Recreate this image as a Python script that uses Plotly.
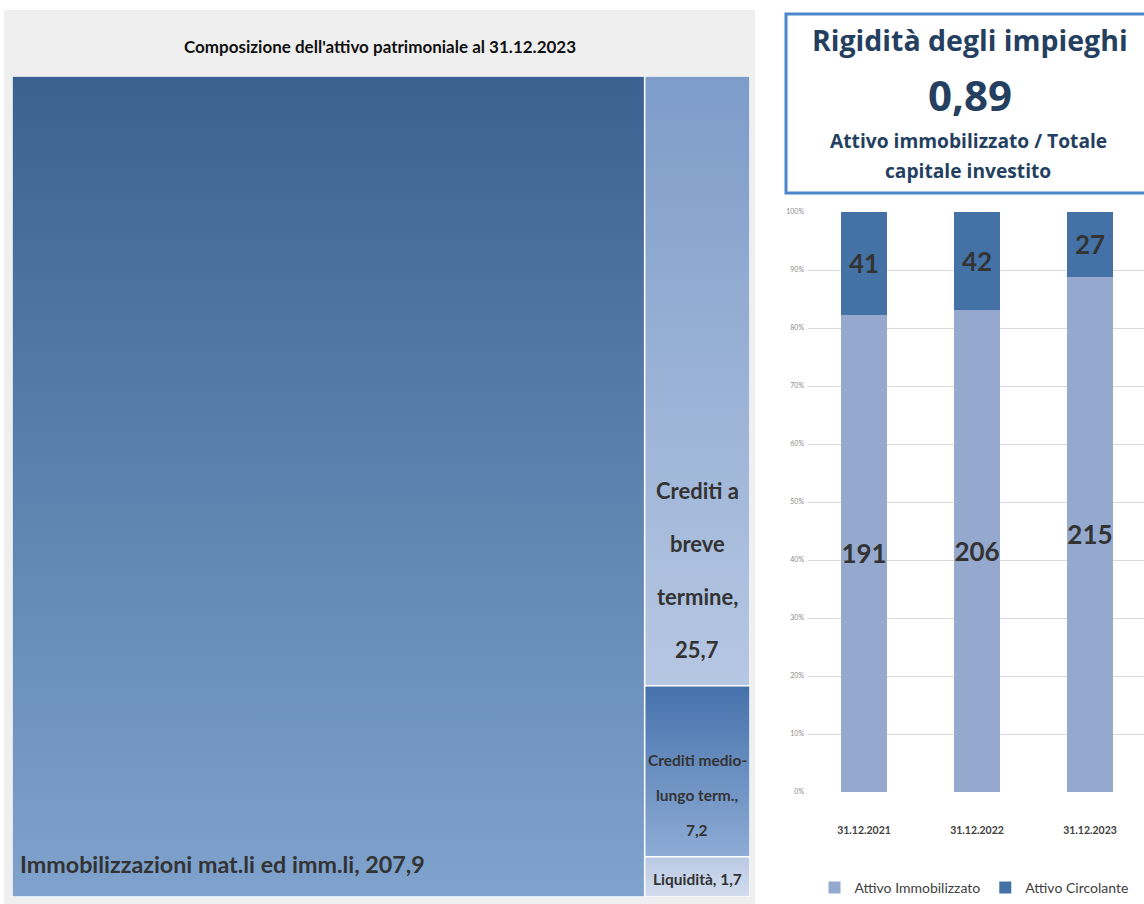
import plotly.graph_objects as go

# ---- Treemap data: composition of assets at 31.12.2023 (million) ----
asset_labels = [
    "Immobilizzazioni mat.li ed imm.li",
    "Crediti a breve termine",
    "Crediti medio-lungo term.",
    "Liquidità",
]
asset_values = [207.9, 25.7, 7.2, 1.7]
asset_value_text = ["207,9", "25,7", "7,2", "1,7"]
# how each tile label is broken into lines inside its tile
asset_label_lines = [
    ["Immobilizzazioni mat.li ed imm.li, 207,9"],
    ["Crediti a", "breve", "termine,", "25,7"],
    ["Crediti medio-", "lungo term.,", "7,2"],
    ["Liquidità, 1,7"],
]

# ---- Stacked bar data ----
years = ["31.12.2021", "31.12.2022", "31.12.2023"]
attivo_immobilizzato = [191, 206, 215]
attivo_circolante = [41, 42, 27]

# ---- KPI box ----
kpi_title = "Rigidità degli impieghi"
kpi_value = "0,89"
kpi_caption = ["Attivo immobilizzato / Totale", "capitale investito"]

W, H = 1144, 904
LABEL_FONT = "Lato, Liberation Sans, sans-serif"
KPI_FONT = "Open Sans, Noto Sans, sans-serif"
DARK_TEXT = "#333333"
NAVY = "#243f60"

# gradient (bottom colour, top colour) for each tile
tile_gradients = [
    ("#7fa3cd", "#3c6190"),
    ("#b6c7e3", "#7d9cc8"),
    ("#8eacd6", "#4571ab"),
    ("#d2dcee", "#bac9e3"),
]


def px_x(p):
    return p / W


def px_y(p):
    return 1 - p / H


fig = go.Figure()

# ---- tile layout: first tile takes the left column, the others stack on the right ----
total = sum(asset_values)
split_x = asset_values[0] / total
rest_total = sum(asset_values[1:])
rects = [(0.0, split_x, 0.0, 1.0)]
top = 1.0
for v in asset_values[1:]:
    h = v / rest_total
    rects.append((split_x, 1.0, top - h, top))
    top -= h

for (x0, x1, y0, y1), (c_bot, c_top), name, val in zip(rects, tile_gradients, asset_labels, asset_values):
    fig.add_trace(go.Scatter(
        x=[x0, x1, x1, x0, x0], y=[y0, y0, y1, y1, y0],
        xaxis="x", yaxis="y", mode="lines", fill="toself",
        line=dict(color="white", width=1.5),
        fillgradient=dict(type="vertical", colorscale=[[0, c_bot], [1, c_top]]),
        name=name, hovertemplate=f"{name}: {val}<extra></extra>", showlegend=False,
    ))

# tile labels, anchored near the bottom of each tile
(x0, x1, y0, y1) = rects[0]
fig.add_annotation(x=x0, y=y0, xref="x", yref="y", xanchor="left", yanchor="middle",
                   xshift=6, yshift=33, showarrow=False,
                   text=asset_label_lines[0][0],
                   font=dict(family=LABEL_FONT, size=23.3, color=DARK_TEXT, weight="bold"))

tile_label_style = [
    (22, 36, 53),   # font size, offset of last line from bottom, line spacing
    (15.5, 27, 35),
    (15.5, 18, 0),
]
for (x0, x1, y0, y1), lines, (fs, off, gap) in zip(rects[1:], asset_label_lines[1:], tile_label_style):
    n = len(lines)
    for k, line in enumerate(lines):
        fig.add_annotation(x=(x0 + x1) / 2, y=y0, xref="x", yref="y",
                           xanchor="center", yanchor="middle", yshift=off + (n - 1 - k) * gap,
                           showarrow=False, text=line,
                           font=dict(family=LABEL_FONT, size=fs, color=DARK_TEXT, weight="bold"))

# ---- 100% stacked bars ----
bar_text_font = dict(family=LABEL_FONT, size=26, color=DARK_TEXT, weight="bold")
fig.add_trace(go.Bar(
    x=years, y=attivo_immobilizzato, name="Attivo Immobilizzato",
    xaxis="x2", yaxis="y2", marker=dict(color="#95a9cf", line=dict(width=0)),
    text=[str(v) for v in attivo_immobilizzato], textposition="inside", textangle=0,
    insidetextanchor="middle", constraintext="none", textfont=bar_text_font,
))
fig.add_trace(go.Bar(
    x=years, y=attivo_circolante, name="Attivo Circolante",
    xaxis="x2", yaxis="y2", marker=dict(color="#4472a6", line=dict(width=0)),
    text=[str(v) for v in attivo_circolante], textposition="inside", textangle=0,
    insidetextanchor="middle", constraintext="none", textfont=bar_text_font,
))

fig.update_layout(
    width=W, height=H, margin=dict(l=0, r=0, t=0, b=0, autoexpand=False),
    paper_bgcolor="white", plot_bgcolor="rgba(0,0,0,0)",
    barmode="stack", barnorm="fraction", bargap=0.6,
    xaxis=dict(domain=[px_x(12), px_x(750)], range=[0, 1], visible=False, fixedrange=True),
    yaxis=dict(domain=[px_y(897), px_y(76)], range=[0, 1], visible=False, fixedrange=True),
    xaxis2=dict(domain=[px_x(808), 1], range=[-0.496, 2.478], anchor="y2",
                showgrid=False, showline=False, ticks="", ticklabelstandoff=30,
                tickfont=dict(family=LABEL_FONT, size=10.5, color="#404040", weight="bold")),
    yaxis2=dict(domain=[px_y(792), px_y(212)], range=[0, 1], anchor="x2",
                tickformat=".0%", dtick=0.1, showgrid=True, gridcolor="#d9d9d9",
                gridwidth=1, zeroline=False, ticks="", ticklabelstandoff=3,
                tickfont=dict(family=LABEL_FONT, size=7, color="#8a8a8a")),
    legend=dict(orientation="h", x=px_x(974), xanchor="center", y=px_y(888), yanchor="middle",
                font=dict(family=LABEL_FONT, size=14, color="#404040"),
                traceorder="normal", itemwidth=30, bgcolor="rgba(0,0,0,0)"),
    showlegend=True,
)

# panel background behind the treemap
fig.add_shape(type="rect", xref="paper", yref="paper", layer="below",
              x0=px_x(4), x1=px_x(755), y0=0, y1=px_y(10),
              fillcolor="#efefef", line=dict(width=0))
fig.add_annotation(x=px_x(380), y=px_y(46), xref="paper", yref="paper", showarrow=False,
                   xanchor="center", yanchor="middle",
                   text="Composizione dell'attivo patrimoniale al 31.12.2023",
                   font=dict(family=LABEL_FONT, size=17, color="#111111", weight="bold"))

# KPI box
fig.add_shape(type="rect", xref="paper", yref="paper",
              x0=px_x(786), x1=px_x(1150), y0=px_y(193), y1=px_y(14),
              fillcolor="white", line=dict(color="#4a86c8", width=3))
fig.add_annotation(x=px_x(970), y=px_y(40), xref="paper", yref="paper", showarrow=False,
                   xanchor="center", yanchor="middle",
                   text=kpi_title, font=dict(family=KPI_FONT, size=28.5, color=NAVY, weight="bold"))
fig.add_annotation(x=px_x(970), y=px_y(94), xref="paper", yref="paper", showarrow=False,
                   xanchor="center", yanchor="middle",
                   text=kpi_value, font=dict(family=KPI_FONT, size=42, color=NAVY, weight="bold"))
for line, yp in zip(kpi_caption, [141, 170]):
    fig.add_annotation(x=px_x(968), y=px_y(yp), xref="paper", yref="paper", showarrow=False,
                       xanchor="center", yanchor="middle",
                       text=line, font=dict(family=KPI_FONT, size=19.2, color=NAVY, weight="bold"))

fig.write_html("out.html")
